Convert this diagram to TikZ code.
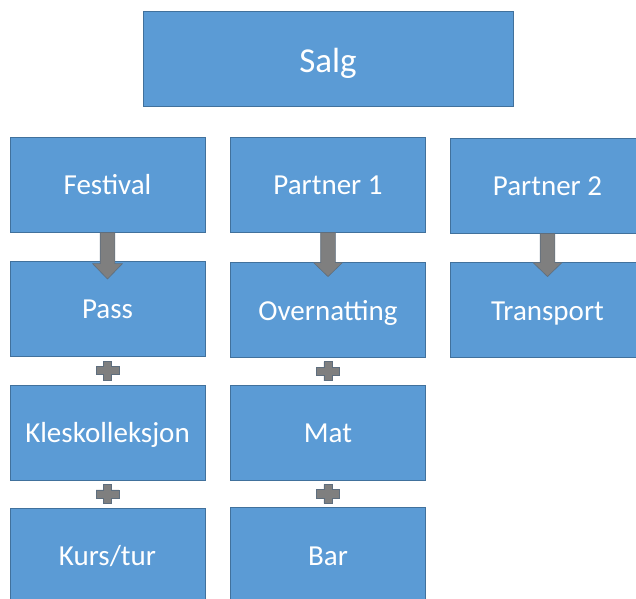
\documentclass[tikz,border=0pt]{standalone}
\usepackage{fontspec}
\setmainfont{Carlito}
\usetikzlibrary{calc}
\definecolor{boxfill}{HTML}{5B9BD5}
\definecolor{boxline}{HTML}{41719C}
\definecolor{arrfill}{HTML}{7F7F7F}
\definecolor{arrline}{HTML}{5E6E7E}
\tikzset{
  box/.style={draw=boxline, line width=0.9pt, fill=boxfill, text=white,
    minimum width=195pt, minimum height=95pt, inner sep=0pt,
    text height=22pt, text depth=2pt,
    font=\fontsize{29}{33}\selectfont},
  topbox/.style={box, minimum width=370pt, text height=28pt, text depth=1.4pt,
    font=\fontsize{35}{40}\selectfont},
  downarrow/.style={fill=arrfill, draw=arrline, line width=0.6pt, line join=miter},
  plussign/.style={fill=arrfill, draw=arrline, line width=0.6pt}
}
\begin{document}
\begin{tikzpicture}[x=1pt,y=-1pt]
\useasboundingbox (0,0) rectangle (636,598);
\clip (0,0) rectangle (636,598);
\fill[white] (0,0) rectangle (636,598);
% boxes
\node[topbox] (salg) at (328,59) {Salg};
\node[box] (fest) at (107.5,184.5) {Festival};
\node[box] (p1) at (328,184.5) {Partner 1};
\node[box] (p2) at (547.5,185.5) {Partner 2};
\node[box] (pass) at (107.5,308.5) {Pass};
\node[box] (over) at (328,310) {Overnatting};
\node[box] (trans) at (547.5,310) {Transport};
\node[box] (kles) at (107.5,432.5) {Kleskolleksjon};
\node[box] (mat) at (328,432.5) {Mat};
\node[box] (kurs) at (107.5,555.5) {Kurs/tur};
\node[box] (bar) at (328,555) {Bar};
% arrows
\draw[downarrow] ($(fest.south)+(-7.3,0)$) -- ($(pass.north)+(-7.3,3)$) -- ($(pass.north)+(-15,3)$)
  -- ($(pass.north)+(0,18.5)$) -- ($(pass.north)+(15,3)$) -- ($(pass.north)+(7.3,3)$)
  -- ($(fest.south)+(7.3,0)$) -- cycle;
\draw[downarrow] ($(p1.south)+(-7.3,0)$) -- ($(over.north)+(-7.3,0.5)$) -- ($(over.north)+(-14.5,0.5)$)
  -- ($(over.north)+(0,14.5)$) -- ($(over.north)+(14.5,0.5)$) -- ($(over.north)+(7.3,0.5)$)
  -- ($(p1.south)+(7.3,0)$) -- cycle;
\draw[downarrow] ($(p2.south)+(-7.3,0)$) -- ($(trans.north)+(-7.3,0.5)$) -- ($(trans.north)+(-14.5,0.5)$)
  -- ($(trans.north)+(0,14.5)$) -- ($(trans.north)+(14.5,0.5)$) -- ($(trans.north)+(7.3,0.5)$)
  -- ($(p2.south)+(7.3,0)$) -- cycle;
% plus signs
\foreach \a/\b/\n in {pass/kles/pa, kles/kurs/pb, over/mat/pc, mat/bar/pd}{
  \coordinate (\n) at ($(\a.south)!0.5!(\b.north)$);
  \draw[plussign] ($(\n)+(-4.2,-9.5)$) -- ($(\n)+(4.2,-9.5)$) -- ($(\n)+(4.2,-4.2)$)
    -- ($(\n)+(11.3,-4.2)$) -- ($(\n)+(11.3,4.2)$) -- ($(\n)+(4.2,4.2)$)
    -- ($(\n)+(4.2,9.5)$) -- ($(\n)+(-4.2,9.5)$) -- ($(\n)+(-4.2,4.2)$)
    -- ($(\n)+(-11.3,4.2)$) -- ($(\n)+(-11.3,-4.2)$) -- ($(\n)+(-4.2,-4.2)$) -- cycle;
}
\end{tikzpicture}
\end{document}
